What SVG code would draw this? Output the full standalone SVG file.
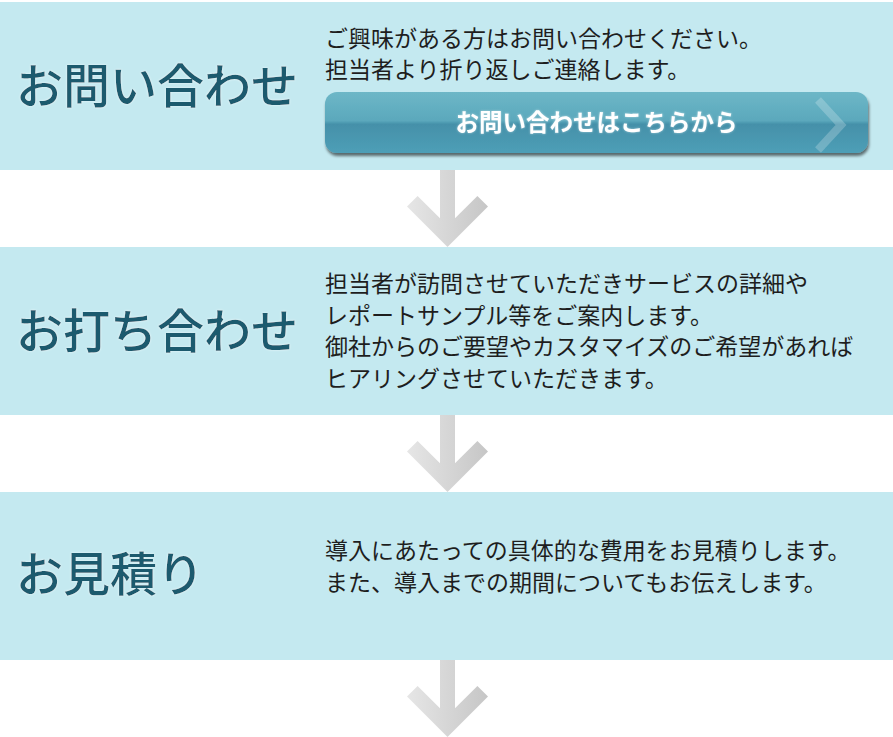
<svg xmlns="http://www.w3.org/2000/svg" width="893" height="737" viewBox="0 0 893 737">
<defs>
<style>
.panel{fill:#c4e9f0}
.title{font-family:"Noto Sans CJK JP","Noto Sans",sans-serif;font-size:47px;font-weight:500;fill:#1b5a6e;filter:url(#glow)}
.body{font-family:"Noto Sans CJK JP","Noto Sans",sans-serif;font-size:23px;fill:#1e1e1e}
.btntext{font-family:"Noto Sans CJK JP","Noto Sans",sans-serif;font-size:23.5px;font-weight:bold;fill:#ffffff;text-anchor:middle;filter:url(#btnglow)}
.arrow{fill:url(#arrowGrad)}
</style>
<filter id="glow" x="-10%" y="-30%" width="120%" height="160%">
<feGaussianBlur in="SourceAlpha" stdDeviation="1.2" result="b"/>
<feFlood flood-color="#ffffff" flood-opacity="0.7"/>
<feComposite in2="b" operator="in" result="g"/>
<feMerge><feMergeNode in="g"/><feMergeNode in="SourceGraphic"/></feMerge>
</filter>
<filter id="btnglow" x="-10%" y="-30%" width="120%" height="160%">
<feGaussianBlur in="SourceAlpha" stdDeviation="1" result="b"/>
<feFlood flood-color="#ffffff" flood-opacity="0.5"/>
<feComposite in2="b" operator="in" result="g"/>
<feMerge><feMergeNode in="g"/><feMergeNode in="SourceGraphic"/></feMerge>
</filter>
<filter id="shadow" x="-5%" y="-20%" width="110%" height="150%">
<feGaussianBlur in="SourceAlpha" stdDeviation="1.6"/>
<feOffset dx="1" dy="2.5" result="o"/>
<feComponentTransfer><feFuncA type="linear" slope="0.55"/></feComponentTransfer>
<feMerge><feMergeNode/><feMergeNode in="SourceGraphic"/></feMerge>
</filter>
<linearGradient id="btnGrad" x1="0" y1="0" x2="0" y2="1">
<stop offset="0" stop-color="#6db7c7"/>
<stop offset="0.47" stop-color="#5ba8bc"/>
<stop offset="0.53" stop-color="#4590a9"/>
<stop offset="1" stop-color="#4e9fb7"/>
</linearGradient>
<linearGradient id="arrowGrad" gradientUnits="userSpaceOnUse" x1="407" y1="0" x2="488" y2="0">
<stop offset="0" stop-color="#e6e6e6"/>
<stop offset="1" stop-color="#c6c6c6"/>
</linearGradient>
<path id="arrowShape" d="M440,0 H455 V48.3 L477.4,25.9 L488,36.5 L447.5,77 L407,36.5 L417.6,25.9 L440,48.3 Z"/>
</defs>
<rect width="893" height="737" fill="#ffffff"/>

<g id="node-inquiry">
<rect class="panel" x="0" y="2" width="893" height="168"/>
<text class="title" x="16" y="103">お問い合わせ</text>
<text class="body" x="325" y="47">ご興味がある方はお問い合わせください。</text>
<text class="body" x="325" y="78">担当者より折り返しご連絡します。</text>
<g id="button">
<rect x="325" y="92" width="543" height="61" rx="12" ry="12" fill="url(#btnGrad)" filter="url(#shadow)"/>
<polyline points="818,100 841,125 818,150" fill="none" stroke="#ffffff" stroke-opacity="0.22" stroke-width="8"/>
<text class="btntext" x="596.5" y="131">お問い合わせはこちらから</text>
</g>
</g>

<g id="node-meeting">
<rect class="panel" x="0" y="247" width="893" height="168"/>
<text class="title" x="16" y="348">お打ち合わせ</text>
<text class="body" x="325" y="292">担当者が訪問させていただきサービスの詳細や</text>
<text class="body" x="325" y="324">レポートサンプル等をご案内します。</text>
<text class="body" x="325" y="355">御社からのご要望やカスタマイズのご希望があれば</text>
<text class="body" x="325" y="387">ヒアリングさせていただきます。</text>
</g>

<g id="node-estimate">
<rect class="panel" x="0" y="492" width="893" height="168"/>
<text class="title" x="16" y="591">お見積り</text>
<text class="body" x="325" y="559">導入にあたっての具体的な費用をお見積りします。</text>
<text class="body" x="325" y="591">また、導入までの期間についてもお伝えします。</text>
</g>

<g id="connectors">
<use href="#arrowShape" class="arrow" transform="translate(0,170)"/>
<use href="#arrowShape" class="arrow" transform="translate(0,415)"/>
<use href="#arrowShape" class="arrow" transform="translate(0,660)"/>
</g>
</svg>
